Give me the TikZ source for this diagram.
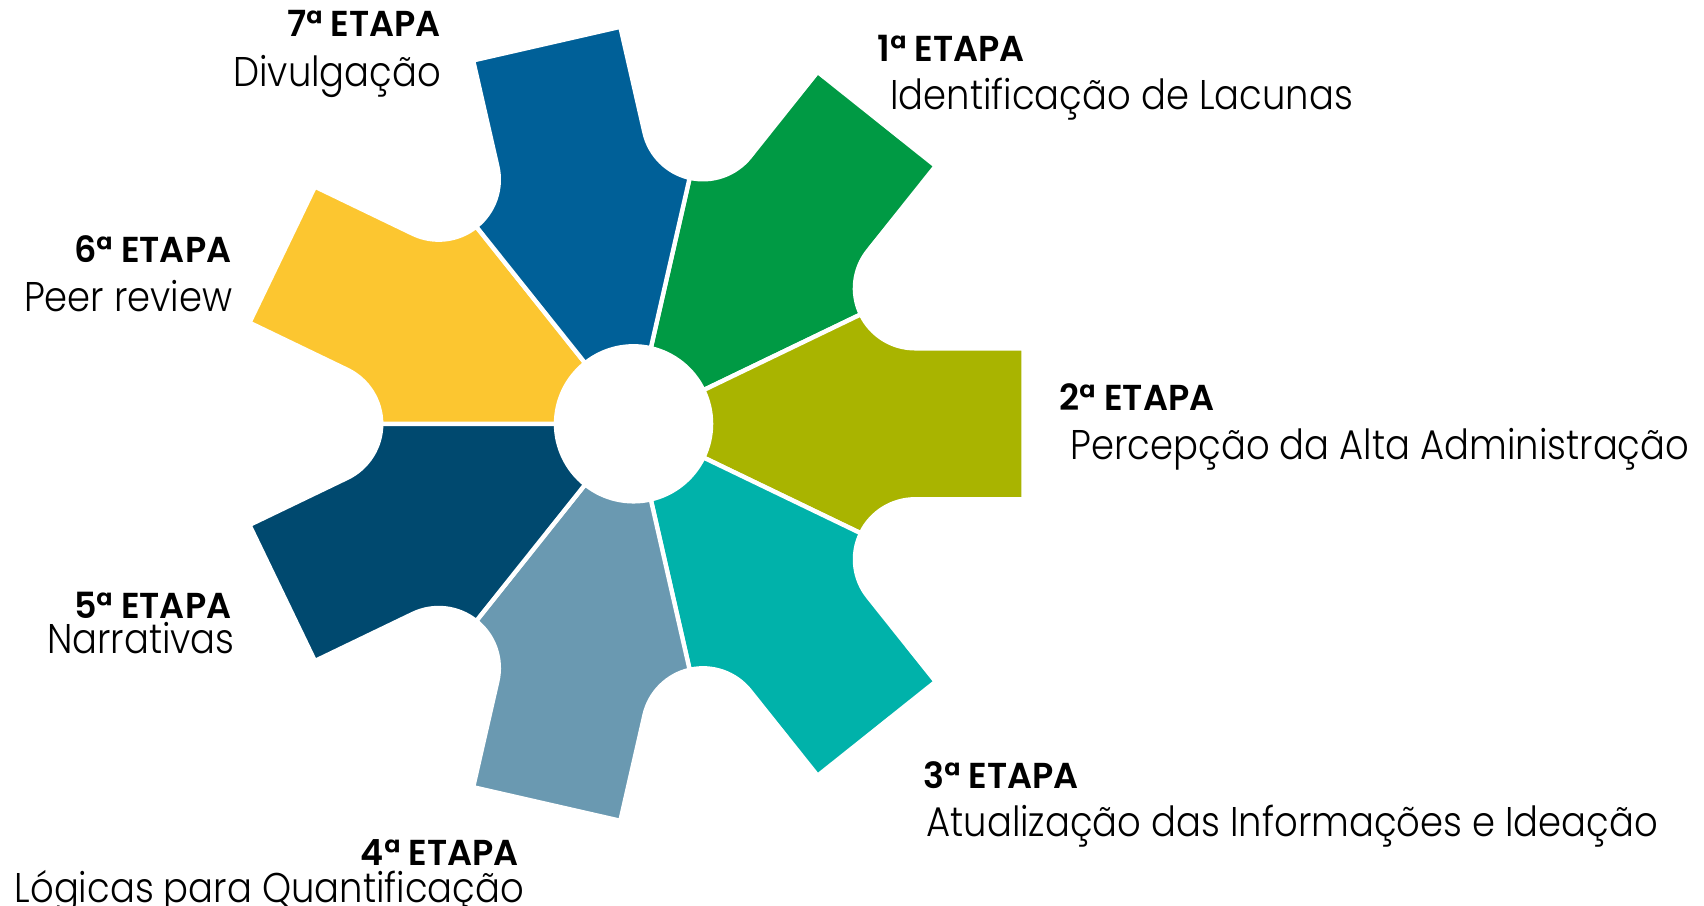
\documentclass[tikz,border=0pt]{standalone}
\usepackage{fontspec}
\newfontfamily\etapafont{Poppins SemiBold}[FakeStretch=0.97]
\newfontfamily\descfont{Poppins Light}[FakeStretch=0.89]
\usetikzlibrary{positioning}
\definecolor{verde}{HTML}{009A44}
\definecolor{oliva}{HTML}{A9B400}
\definecolor{turquesa}{HTML}{00B2AA}
\definecolor{cinza}{HTML}{6A99B1}
\definecolor{marinho}{HTML}{00496F}
\definecolor{amarelo}{HTML}{FCC630}
\definecolor{azul}{HTML}{006098}
\tikzset{
  petala/.style={draw=white, line width=4pt, line join=round},
  etapa/.style={inner sep=0pt, font=\etapafont\fontsize{33}{36}\selectfont},
  desc/.style={inner sep=0pt, font=\descfont\fontsize{38}{42}\selectfont}
}

\begin{document}
\begin{tikzpicture}[x=1pt,y=1pt]
    \useasboundingbox (-580,-441.4) rectangle (980,388);
    \foreach \ang/\cor in {51.43/verde, 0/oliva, -51.43/turquesa, -102.86/cinza,
                           -154.29/marinho, 154.29/amarelo, 102.86/azul}{
      \begin{scope}[rotate=\ang]
        \path[petala, fill=\cor] (-25.714:71) -- (-25.714:231)
          arc[start angle=154.286, end angle=90, radius=55pt] -- (357,-69.1)
          -- (357,69.1) -- (257.7,69.1)
          arc[start angle=-90, end angle=-154.286, radius=55pt] -- (25.714:71)
          arc[start angle=25.714, end angle=-25.714, radius=71pt] -- cycle;
      \end{scope}
    }
    % etapas
    \node (h1) [etapa,anchor=base west] at (223,332) {1ª ETAPA};
    \node (d1) [desc,anchor=base west] at (235,288) {Identificação de Lacunas};
    \node (h2) [etapa,anchor=base west] at (390,12) {2ª ETAPA};
    \node (d2) [desc,anchor=base west] at (400,-33) {Percepção da Alta Administração};
    \node (h3) [etapa,anchor=base west] at (265,-334) {3ª ETAPA};
    \node (d3) [desc,anchor=base west] at (268,-378) {Atualização das Informações e Ideação};
    \node (h4) [etapa,anchor=base east] at (-105,-404) {4ª ETAPA};
    \node (d4) [desc,anchor=base east] at (-100,-438) {Lógicas para Quantificação};
    \node (h5) [etapa,anchor=base east] at (-368,-178) {5ª ETAPA};
    \node (d5) [desc,anchor=base east] at (-365,-210) {Narrativas};
    \node (h6) [etapa,anchor=base east] at (-368,148) {6ª ETAPA};
    \node (d6) [desc,anchor=base east] at (-367,103) {Peer review};
    \node (h7) [etapa,anchor=base east] at (-176,355) {7ª ETAPA};
    \node (d7) [desc,anchor=base east] at (-176,309) {Divulgação};
\end{tikzpicture}
\end{document}
